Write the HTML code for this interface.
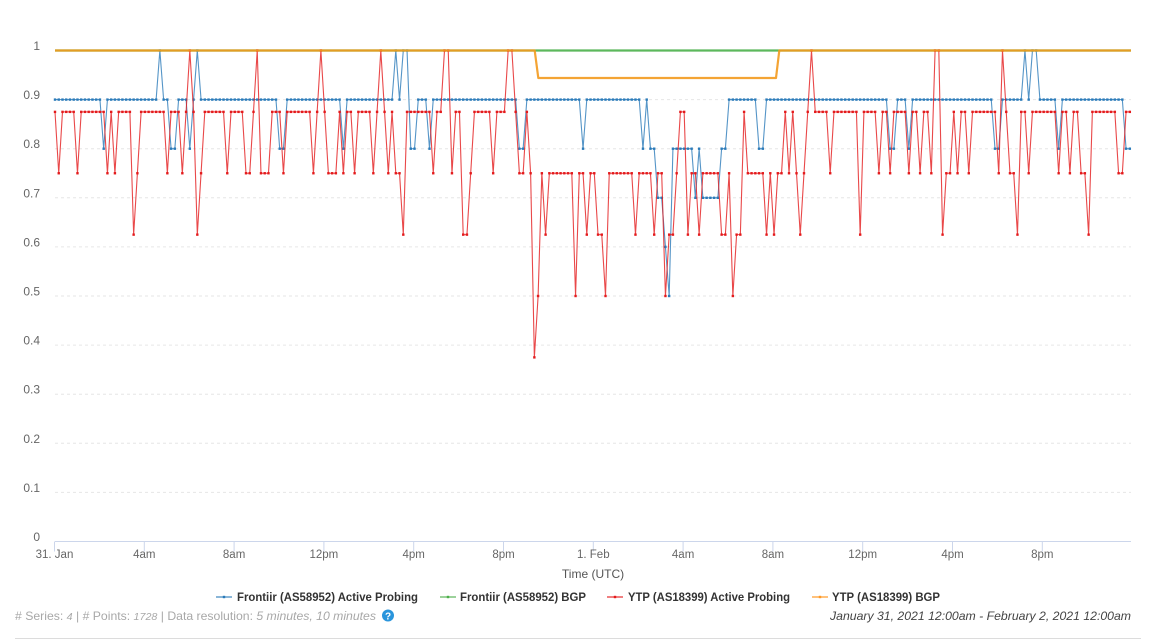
<!DOCTYPE html>
<html>
<head>
<meta charset="utf-8">
<style>
  html,body{margin:0;padding:0;background:#fff;}
  body{width:1156px;height:640px;overflow:hidden;}
  svg{display:block;font-family:"Liberation Sans",sans-serif;}
</style>
</head>
<body>
<svg id="c" width="1156" height="640" viewBox="0 0 1156 640" xmlns="http://www.w3.org/2000/svg">
  <g id="grid" stroke="#e6e6e6" stroke-width="1" stroke-dasharray="3,3"></g>
  <g id="ylab" font-size="12" fill="#666" text-anchor="end"></g>
  <line x1="55" y1="541.5" x2="1131" y2="541.5" stroke="#ccd6eb" stroke-width="1"/>
  <g id="ticks" stroke="#ccd6eb" stroke-width="1"></g>
  <g id="xlab" font-size="11.5" fill="#666" text-anchor="middle"></g>
  <text x="593" y="578" font-size="12" fill="#555" text-anchor="middle">Time (UTC)</text>
  <g id="series"></g>

  <!-- legend -->
  <g font-size="12" font-weight="bold" fill="#333">
    <line x1="216" y1="597" x2="232" y2="597" stroke="#2b7bb9" stroke-width="2" opacity="0.55"/>
    <rect x="222.8" y="595.8" width="2.4" height="2.4" fill="#2b7bb9"/>
    <text x="237" y="601" textLength="181" lengthAdjust="spacingAndGlyphs">Frontiir (AS58952) Active Probing</text>

    <line x1="440" y1="597" x2="456" y2="597" stroke="#4daf4a" stroke-width="2" opacity="0.55"/>
    <rect x="446.8" y="595.8" width="2.4" height="2.4" fill="#4daf4a"/>
    <text x="460" y="601" textLength="126" lengthAdjust="spacingAndGlyphs">Frontiir (AS58952) BGP</text>

    <line x1="607" y1="597" x2="623" y2="597" stroke="#e41a1c" stroke-width="2" opacity="0.55"/>
    <rect x="613.8" y="595.8" width="2.4" height="2.4" fill="#e41a1c"/>
    <text x="628" y="601" textLength="162" lengthAdjust="spacingAndGlyphs">YTP (AS18399) Active Probing</text>

    <line x1="812" y1="597" x2="828" y2="597" stroke="#ff9a26" stroke-width="2" opacity="0.6"/>
    <rect x="818.8" y="595.8" width="2.4" height="2.4" fill="#ff9a26"/>
    <text x="832" y="601" textLength="108" lengthAdjust="spacingAndGlyphs">YTP (AS18399) BGP</text>
  </g>

  <!-- footer -->
  <text x="15" y="620" font-size="12" fill="#a8a8a8" textLength="361" lengthAdjust="spacingAndGlyphs"># Series: <tspan font-style="italic" font-size="10.5">4</tspan> | # Points: <tspan font-style="italic" font-size="10.5">1728</tspan> | Data resolution: <tspan font-style="italic">5 minutes, 10 minutes</tspan></text>
  <circle cx="388" cy="615.5" r="6" fill="#2a95dc"/>
  <text x="388" y="619.5" font-size="10" font-weight="bold" fill="#fff" text-anchor="middle">?</text>
  <text x="1131" y="620" font-size="12" font-style="italic" fill="#444" text-anchor="end" textLength="301" lengthAdjust="spacingAndGlyphs">January 31, 2021 12:00am - February 2, 2021 12:00am</text>
  <line x1="15" y1="638.5" x2="1141" y2="638.5" stroke="#dcdcdc" stroke-width="1"/>
</svg>
<script>
(function(){
  var NS="http://www.w3.org/2000/svg";
  var X0=55, DX=3.745, Y0=541.5, H=491;
  function Y(v){return Y0-v*H;}
  function el(tag,attrs,parent,text){
    var e=document.createElementNS(NS,tag);
    for(var k in attrs) e.setAttribute(k,attrs[k]);
    if(text!==undefined) e.textContent=text;
    parent.appendChild(e); return e;
  }
  var grid=document.getElementById('grid');
  var ylab=document.getElementById('ylab');
  var labels=["0","0.1","0.2","0.3","0.4","0.5","0.6","0.7","0.8","0.9","1"];
  for(var i=0;i<=10;i++){
    var y=Y(i/10);
    if(i>0) el('line',{x1:55,y1:(y).toFixed(1),x2:1131,y2:(y).toFixed(1)},grid);
    el('text',{x:40,y:(y-0.5).toFixed(1)},ylab,labels[i]);
  }
  var ticks=document.getElementById('ticks'), xlab=document.getElementById('xlab');
  var xl=["31. Jan","4am","8am","12pm","4pm","8pm","1. Feb","4am","8am","12pm","4pm","8pm"];
  for(var k=0;k<12;k++){
    var x=54.5+k*89.8;
    el('line',{x1:x,y1:541.5,x2:x,y2:551.5},ticks);
    el('text',{x:x,y:558},xlab,xl[k]);
  }
  var red="bcbbbbcbbb"+"bbbbcbcbbb"+"bdcbbbbbbb"+"cbbbcbabdc"+"bbbbbbcbbb"+"bccbacccbb"+"bcbbbbbbbc"+"babcccbcbb"+"cbbbbcbabc"+"bccdbbbbbb"+
          "bcbbaacbbd"+"dcbbbbbcbb"+"baabccbcfe"+"cdccccccce"+"ccdccddecc"+"cccccdcccc"+"dcceddcbbd"+"ccdcccccdd"+"ceddbccccc"+"dcdccbcbcd"+
          "cbabbbbcbb"+"bbbbbdbbbb"+"cbbcbbbbcb"+"bcbbcaadcc"+"bcbbcbbbbb"+"bbcabccdbb"+"cbbbbbbbcb"+"bcbbccdbbb"+"bbbbccbb";
  var blue="bbbbbbbbbb"+"bbbcbbbbbb"+"bbbbbbbbab"+"bccbbbcbab"+"bbbbbbbbbb"+"bbbbbbbbbb"+"ccbbbbbbbb"+"bbbbbbbcbb"+"bbbbbbbbbb"+"babaaccbbb"+
           "cbbbbbbbbb"+"bbbbbbbbbb"+"bbbbccbbbb"+"bbbbbbbbbb"+"bcbbbbbbbb"+"bbbbbbbcbc"+"cddefccccc"+"cdcdddddcc"+"bbbbbbbbcc"+"bbbbbbbbbb"+
           "bbbbbbbbbb"+"bbbbbbbbbb"+"bbbccbbbcb"+"bbbbbbbbbb"+"bbbbbbbbbb"+"bccbbbbbba"+"baabbbbbcb"+"bbbbbbbbbb"+"bbbbbbcc";
  var rmap={a:1,b:.875,c:.75,d:.625,e:.5,f:.375};
  var bmap={a:1,b:.9,c:.8,d:.7,e:.6,f:.5};
  var series=document.getElementById('series');
  function drawAP(str,map,color){
    var g=el('g',{},series);
    var d="";
    var pts=[];
    for(var i=0;i<str.length;i++){
      var x=X0+i*DX, y=Y(map[str[i]]);
      pts.push([x,y]);
      d+=(i?"L":"M")+x.toFixed(2)+" "+y.toFixed(2);
    }
    el('path',{d:d,fill:"none",stroke:color,"stroke-width":"1.1","stroke-linejoin":"round",opacity:"0.8"},g);
    for(var j=0;j<pts.length;j++){
      el('rect',{x:(pts[j][0]-1.2).toFixed(2),y:(pts[j][1]-1.2).toFixed(2),width:"2.4",height:"2.4",fill:color},g);
    }
  }
  drawAP(blue,bmap,"#2b7bb9");
  // green BGP
  el('path',{d:"M55 50.5L1131 50.5",fill:"none",stroke:"#5cb85c","stroke-width":"2.2"},series);
  drawAP(red,rmap,"#e41a1c");
  // orange BGP
  var oy=Y(0.944);
  el('path',{d:"M55 50.5L534.7 50.5L538.3 "+oy.toFixed(1)+"L776 "+oy.toFixed(1)+"L779.3 50.5L1131 50.5",fill:"none",stroke:"#f39a1e","stroke-width":"2.2","stroke-linejoin":"round",opacity:"0.9"},series);
})();
</script>
</body>
</html>
